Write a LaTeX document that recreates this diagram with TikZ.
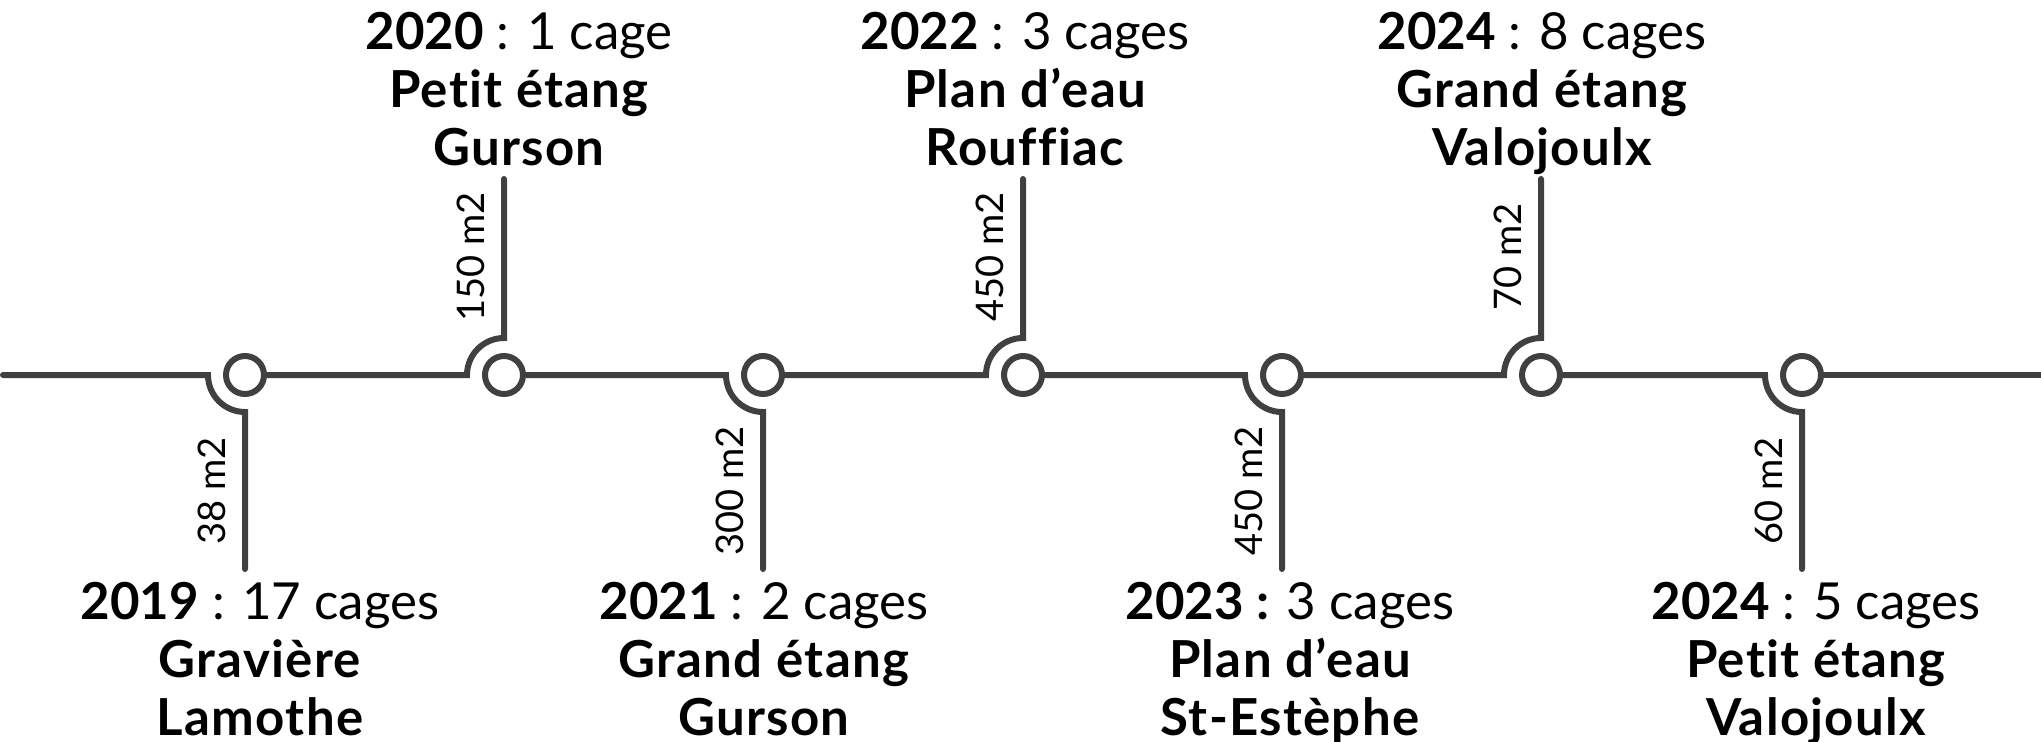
\documentclass[tikz,border=0pt]{standalone}
\usepackage{fontspec}
\setmainfont{Lato}
\newfontfamily\sitefont{Lato}[LetterSpace=2.5, Ligatures=CommonOff]
\usetikzlibrary{positioning}
\definecolor{axe}{RGB}{64,64,66}
\tikzset{
  dot/.style  ={draw=axe, circle, minimum size=19pt, inner sep=0pt,
                line width=3pt, fill=white},
  axis/.style ={draw=axe, line width=3pt, line cap=round},
  area/.style ={rotate=90, anchor=base, inner sep=0pt,
                font=\fontsize{19}{22}\selectfont},
  yr/.style   ={anchor=base, inner sep=0pt,
                font=\fontsize{25.5}{29}\selectfont},
  site/.style ={anchor=base, inner sep=0pt,
                font=\fontsize{25.5}{29}\selectfont\sitefont\bfseries},
}

\begin{document}
\begin{tikzpicture}[x=0.5pt, y=0.5pt]
\useasboundingbox (0,0) rectangle (2041,741);
% stations on the line
\node[dot] (c1) at (245,366) {};
\node[dot] (c2) at (504,366) {};
\node[dot] (c3) at (763,366) {};
\node[dot] (c4) at (1023,366) {};
\node[dot] (c5) at (1282,366) {};
\node[dot] (c6) at (1541,366) {};
\node[dot] (c7) at (1802,366) {};
% ends of the line, starts of the bends, tips of the stems
\coordinate (w) at (3,366);
\coordinate (e) at (2045,366);
\coordinate (a1) at (208,366);  \coordinate (t1) at (245,172);
\coordinate (a2) at (467,366);  \coordinate (t2) at (504,562);
\coordinate (a3) at (726,366);  \coordinate (t3) at (763,172);
\coordinate (a4) at (986,366);  \coordinate (t4) at (1023,562);
\coordinate (a5) at (1245,366); \coordinate (t5) at (1282,172);
\coordinate (a6) at (1504,366); \coordinate (t6) at (1541,562);
\coordinate (a7) at (1765,366); \coordinate (t7) at (1802,172);
\draw[axis] (w) -- (a1) arc[start angle=180, end angle=270, radius=18.5pt] -- (t1);
\draw[axis] (c1) -- (a2) arc[start angle=180, end angle=90, radius=18.5pt] -- (t2);
\draw[axis] (c2) -- (a3) arc[start angle=180, end angle=270, radius=18.5pt] -- (t3);
\draw[axis] (c3) -- (a4) arc[start angle=180, end angle=90, radius=18.5pt] -- (t4);
\draw[axis] (c4) -- (a5) arc[start angle=180, end angle=270, radius=18.5pt] -- (t5);
\draw[axis] (c5) -- (a6) arc[start angle=180, end angle=90, radius=18.5pt] -- (t6);
\draw[axis] (c6) -- (a7) arc[start angle=180, end angle=270, radius=18.5pt] -- (t7);
\draw[axis] (c7) -- (e);
% surfaces along the stems
\node[area] (m1) at (225,250) {38 m2};
\node[area] (m2) at (484,484) {150 m2};
\node[area] (m3) at (743,250) {300 m2};
\node[area] (m4) at (1003,484) {450 m2};
\node[area] (m5) at (1262,250) {450 m2};
\node[area] (m6) at (1521,484) {70 m2};
\node[area] (m7) at (1782,250) {60 m2};
% below the line
\node[yr] (y1) at (260,122) {\textbf{2019} : 17 cages};
\node[site] (p1) at ([yshift=-29pt]y1.base) {Gravière};
\node[site] (q1) at ([yshift=-29pt]p1.base) {Lamothe};
\node[yr] (y3) at (764,122) {\textbf{2021} : 2 cages};
\node[site] (p3) at ([yshift=-29pt]y3.base) {Grand étang};
\node[site] (q3) at ([yshift=-29pt]p3.base) {Gurson};
\node[yr] (y5) at (1290,122) {\textbf{2023 :} 3 cages};
\node[site] (p5) at ([yshift=-29pt]y5.base) {Plan d’eau};
\node[site] (q5) at ([yshift=-29pt]p5.base) {St-Estèphe};
\node[yr] (y7) at (1816,122) {\textbf{2024} : 5 cages};
\node[site] (p7) at ([yshift=-29pt]y7.base) {Petit étang};
\node[site] (q7) at ([yshift=-29pt]p7.base) {Valojoulx};
% above the line
\node[yr] (y2) at (519,691) {\textbf{2020} : 1 cage};
\node[site] (p2) at ([yshift=-29pt]y2.base) {Petit étang};
\node[site] (q2) at ([yshift=-29pt]p2.base) {Gurson};
\node[yr] (y4) at (1025,691) {\textbf{2022} : 3 cages};
\node[site] (p4) at ([yshift=-29pt]y4.base) {Plan d’eau};
\node[site] (q4) at ([yshift=-29pt]p4.base) {Rouffiac};
\node[yr] (y6) at (1542,691) {\textbf{2024} : 8 cages};
\node[site] (p6) at ([yshift=-29pt]y6.base) {Grand étang};
\node[site] (q6) at ([yshift=-29pt]p6.base) {Valojoulx};
\end{tikzpicture}
\end{document}
